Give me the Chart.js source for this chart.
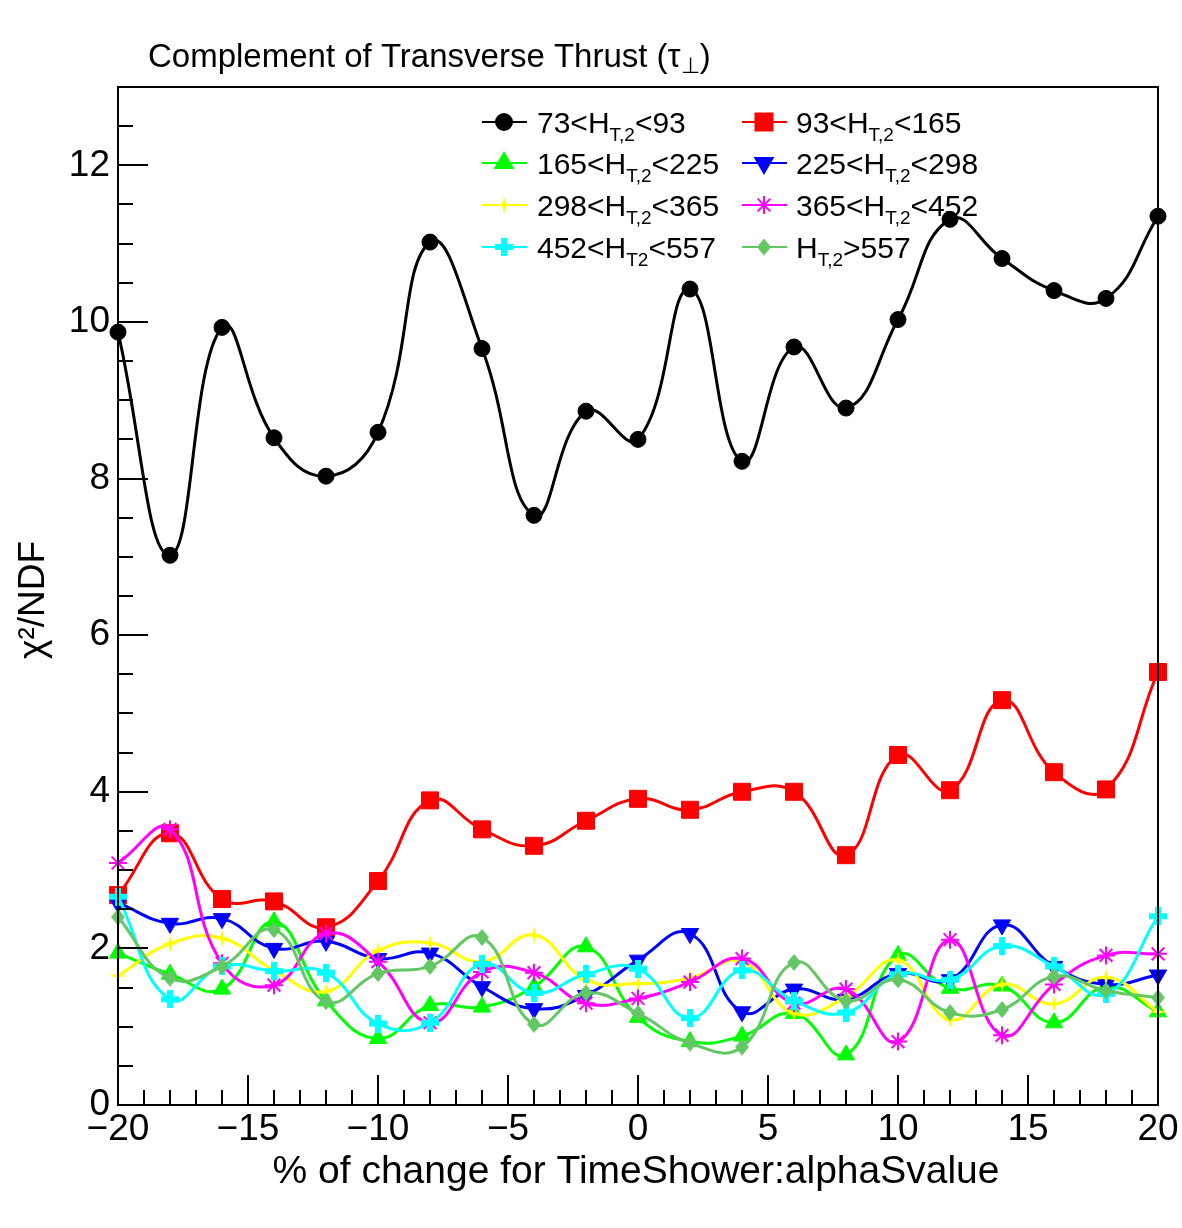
<!DOCTYPE html>
<html>
<head>
<meta charset="utf-8">
<title>Complement of Transverse Thrust</title>
<script src="https://cdn.jsdelivr.net/npm/chart.js@4.4.1/dist/chart.umd.min.js"></script>
<style>
  html, body { margin: 0; padding: 0; background: #fff; }
  #wrap { width: 1182px; height: 1228px; }
</style>
</head>
<body>
<div id="wrap"><canvas id="chi2Chart" width="1182" height="1228"></canvas></div>
<script>
// valores del eje x (% de cambio) y marcas de los ejes
const xValues = [-20, -18, -16, -14, -12, -10, -8, -6, -4, -2, 0, 2, 4, 6, 8, 10, 12, 14, 16, 18, 20];
const xTicks = [-20, -15, -10, -5, 0, 5, 10, 15, 20];
const yTicks = [0, 2, 4, 6, 8, 10, 12];

// chi2/NDF por bin de H_T,2
const ht73to93   = [9.87, 7.02, 9.93, 8.52, 8.03, 8.59, 11.02, 9.66, 7.53, 8.86, 8.50, 10.42, 8.22, 9.68, 8.90, 10.03, 11.31, 10.81, 10.40, 10.30, 11.35];
const ht93to165  = [2.68, 3.47, 2.63, 2.60, 2.27, 2.86, 3.89, 3.52, 3.31, 3.63, 3.91, 3.77, 4.00, 4.00, 3.19, 4.47, 4.02, 5.17, 4.25, 4.03, 5.53];
const ht165to225 = [1.94, 1.67, 1.48, 2.34, 1.33, 0.85, 1.27, 1.25, 1.51, 2.02, 1.12, 0.81, 0.88, 1.17, 0.64, 1.91, 1.49, 1.52, 1.05, 1.51, 1.19];
const ht225to298 = [2.58, 2.32, 2.38, 2.00, 2.09, 1.87, 1.94, 1.51, 1.23, 1.40, 1.85, 2.19, 1.19, 1.48, 1.35, 1.68, 1.60, 2.30, 1.77, 1.54, 1.66];
const ht298to365 = [1.65, 2.06, 2.13, 1.72, 1.45, 1.97, 2.07, 1.83, 2.17, 1.60, 1.55, 1.62, 1.83, 1.17, 1.38, 1.85, 1.09, 1.54, 1.29, 1.63, 1.19];
const ht365to452 = [3.09, 3.52, 1.81, 1.53, 2.19, 1.83, 1.05, 1.70, 1.69, 1.30, 1.36, 1.57, 1.87, 1.30, 1.48, 0.81, 2.11, 0.89, 1.54, 1.91, 1.93];
const ht452to557 = [2.66, 1.35, 1.77, 1.71, 1.69, 1.04, 1.05, 1.80, 1.43, 1.67, 1.74, 1.11, 1.72, 1.33, 1.18, 1.67, 1.60, 2.03, 1.77, 1.42, 2.41];
const htAbove557 = [2.40, 1.62, 1.77, 2.24, 1.32, 1.68, 1.77, 2.14, 1.03, 1.43, 1.17, 0.79, 0.74, 1.82, 1.33, 1.60, 1.18, 1.22, 1.64, 1.46, 1.37];

// etiquetas de la leyenda: [antes, subindice, despues]
const seriesLabels = [
    ['73<H', 'T,2', '<93'],
    ['93<H', 'T,2', '<165'],
    ['165<H', 'T,2', '<225'],
    ['225<H', 'T,2', '<298'],
    ['298<H', 'T,2', '<365'],
    ['365<H', 'T,2', '<452'],
    ['452<H', 'T2', '<557'],
    ['H', 'T,2', '>557']
];
const seriesValues = [ht73to93, ht93to165, ht165to225, ht225to298, ht298to365, ht365to452, ht452to557, htAbove557];
const seriesColors = ['#000000', '#ff0000', '#00ff00', '#0000ff', '#ffff00', '#ff00ff', '#00ffff', '#63c763'];

const FONT = "'Liberation Sans', Arial, Helvetica, sans-serif";

// marcadores dibujados a mano (estilo ROOT)
function makeMarker(w, h, draw) {
    const c = document.createElement('canvas');
    c.width = w;
    c.height = h;
    draw(c.getContext('2d'));
    return c;
}
const starMarker = makeMarker(18, 18, g => {
    g.fillStyle = '#ffff00';
    g.beginPath();
    g.moveTo(9, 0); g.lineTo(10.6, 7.4); g.lineTo(18, 9); g.lineTo(10.6, 10.6);
    g.lineTo(9, 18); g.lineTo(7.4, 10.6); g.lineTo(0, 9); g.lineTo(7.4, 7.4);
    g.closePath();
    g.fill();
});
const plusMarker = makeMarker(18, 18, g => {
    g.fillStyle = '#00ffff';
    g.fillRect(6, 0, 6, 18);
    g.fillRect(0, 6, 18, 6);
});
const diamondMarker = makeMarker(14, 17, g => {
    g.fillStyle = '#63c763';
    g.beginPath();
    g.moveTo(7, 0); g.lineTo(14, 8.5); g.lineTo(7, 17); g.lineTo(0, 8.5);
    g.closePath();
    g.fill();
});

const markerStyles = [
    { pointStyle: 'circle', radius: 8, rotation: 0, borderWidth: 1 },
    { pointStyle: 'rect', radius: 12, rotation: 0, borderWidth: 1 },
    { pointStyle: 'triangle', radius: 10, rotation: 0, borderWidth: 1 },
    { pointStyle: 'triangle', radius: 10, rotation: 180, borderWidth: 1 },
    { pointStyle: starMarker, radius: 9, rotation: 0, borderWidth: 0 },
    { pointStyle: 'star', radius: 9, rotation: 0, borderWidth: 2 },
    { pointStyle: plusMarker, radius: 9, rotation: 0, borderWidth: 0 },
    { pointStyle: diamondMarker, radius: 8, rotation: 0, borderWidth: 0 }
];

const datasets = seriesValues.map((vals, i) => ({
    label: seriesLabels[i].join(''),
    data: vals.map((v, k) => ({ x: xValues[k], y: v })),
    borderColor: seriesColors[i],
    backgroundColor: seriesColors[i],
    borderWidth: 3,
    tension: 0.45,
    clip: false,
    pointStyle: markerStyles[i].pointStyle,
    pointRadius: markerStyles[i].radius,
    pointRotation: markerStyles[i].rotation,
    pointBorderWidth: markerStyles[i].borderWidth,
    order: seriesValues.length - i  // la ultima serie queda encima
}));

// marcas hacia dentro, marco y titulos de ejes
const rootAxes = {
    id: 'rootAxes',
    afterDatasetsDraw(chart) {
        const { ctx, chartArea: a, scales: { x, y } } = chart;
        ctx.save();
        ctx.strokeStyle = '#000';
        ctx.lineWidth = 2;
        ctx.strokeRect(a.left, a.top, a.right - a.left, a.bottom - a.top);

        const xStep = (xTicks[1] - xTicks[0]) / 5;
        const yStep = (yTicks[1] - yTicks[0]) / 4;
        ctx.beginPath();
        for (let v = x.min; v <= x.max + 1e-9; v += xStep) {
            const px = Math.round(x.getPixelForValue(v));
            const major = xTicks.some(t => Math.abs(t - v) < 1e-6);
            ctx.moveTo(px, a.bottom);
            ctx.lineTo(px, a.bottom - (major ? 30 : 15));
        }
        for (let v = y.min; v <= y.max + 1e-9; v += yStep) {
            const py = Math.round(y.getPixelForValue(v));
            const major = yTicks.some(t => Math.abs(t - v) < 1e-6);
            ctx.moveTo(a.left, py);
            ctx.lineTo(a.left + (major ? 30 : 15), py);
        }
        ctx.stroke();

        ctx.fillStyle = '#000';
        // titulo del eje x
        ctx.font = '39px ' + FONT;
        ctx.textAlign = 'center';
        ctx.textBaseline = 'alphabetic';
        ctx.fillText('% of change for TimeShower:alphaSvalue', 636, 1183);
        // titulo del eje y
        ctx.save();
        ctx.translate(44, 600);
        ctx.rotate(-Math.PI / 2);
        ctx.font = '37px ' + FONT;
        ctx.fillText('\u03c7\u00b2/NDF', 0, 0);
        ctx.restore();
        ctx.restore();
    },
    afterDraw(chart) {
        const ctx = chart.ctx;
        ctx.save();
        ctx.fillStyle = '#000';
        ctx.textAlign = 'left';
        ctx.textBaseline = 'alphabetic';
        // titulo principal
        ctx.font = '33px ' + FONT;
        let tx = 148;
        const main = 'Complement of Transverse Thrust (\u03c4';
        ctx.fillText(main, tx, 67);
        tx += ctx.measureText(main).width;
        ctx.font = '22px ' + FONT;
        ctx.fillText('\u22a5', tx, 73);
        tx += ctx.measureText('\u22a5').width;
        ctx.font = '33px ' + FONT;
        ctx.fillText(')', tx, 67);

        // leyenda en dos columnas
        const cols = [{ line: 482, mark: 504, text: 537 }, { line: 742, mark: 764, text: 796 }];
        const rows = [122, 163, 205, 247];
        seriesLabels.forEach((parts, i) => {
            const c = cols[i % 2];
            const ry = rows[Math.floor(i / 2)];
            ctx.strokeStyle = seriesColors[i];
            ctx.fillStyle = seriesColors[i];
            ctx.lineWidth = 2;
            ctx.beginPath();
            ctx.moveTo(c.line, ry);
            ctx.lineTo(c.line + 45, ry);
            ctx.stroke();
            Chart.helpers.drawPoint(ctx, markerStyles[i], c.mark, ry);

            ctx.fillStyle = '#000';
            let lx = c.text;
            const base = ry + 11;
            ctx.font = '30px ' + FONT;
            ctx.fillText(parts[0], lx, base);
            lx += ctx.measureText(parts[0]).width;
            ctx.font = '19px ' + FONT;
            ctx.fillText(parts[1], lx, base + 8);
            lx += ctx.measureText(parts[1]).width;
            ctx.font = '30px ' + FONT;
            ctx.fillText(parts[2], lx, base);
        });
        ctx.restore();
    }
};

const minusSign = v => String(v).replace('-', '\u2212');

new Chart(document.getElementById('chi2Chart'), {
    type: 'line',
    data: { datasets: datasets },
    options: {
        responsive: false,
        animation: false,
        events: [],
        layout: { padding: { top: 87, right: 24, left: 0, bottom: 0 } },
        plugins: {
            legend: { display: false },
            tooltip: { enabled: false },
            title: { display: false }
        },
        scales: {
            x: {
                type: 'linear',
                min: -20,
                max: 20,
                grid: { display: false, drawTicks: false },
                border: { display: false },
                ticks: {
                    color: '#000',
                    font: { family: FONT, size: 37 },
                    padding: 3,
                    maxRotation: 0,
                    autoSkip: false,
                    callback: minusSign
                },
                afterBuildTicks: s => { s.ticks = xTicks.map(v => ({ value: v })); },
                afterFit: s => { s.height = 123; }
            },
            y: {
                type: 'linear',
                min: 0,
                max: 13,
                grid: { display: false, drawTicks: false },
                border: { display: false },
                ticks: {
                    color: '#000',
                    font: { family: FONT, size: 37 },
                    padding: 8,
                    autoSkip: false,
                    callback: minusSign
                },
                afterBuildTicks: s => { s.ticks = yTicks.map(v => ({ value: v })); },
                afterFit: s => { s.width = 118; }
            }
        }
    },
    plugins: [rootAxes]
});
</script>
</body>
</html>
